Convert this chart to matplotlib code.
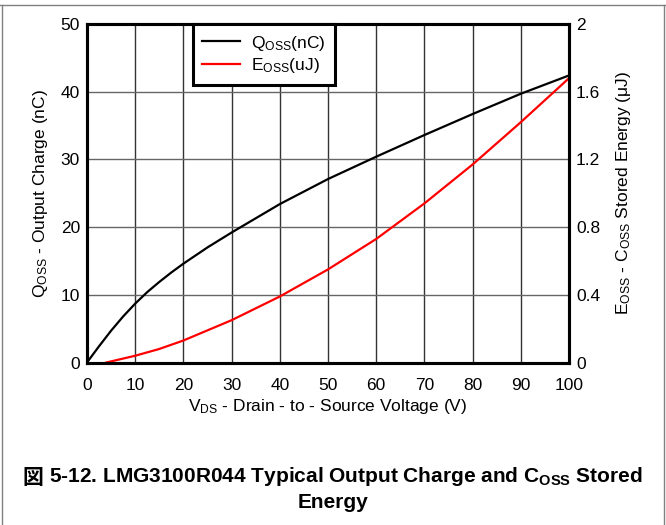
import matplotlib
matplotlib.use("Agg")
import matplotlib.pyplot as plt
from matplotlib.lines import Line2D

plt.rcParams['font.family'] = ['Liberation Sans', 'Noto Sans CJK JP', 'DejaVu Sans']
plt.rcParams['mathtext.fontset'] = 'custom'
plt.rcParams['mathtext.rm'] = 'Liberation Sans'
plt.rcParams['mathtext.bf'] = 'Liberation Sans:bold'

# data
v_q = [0, 2.5, 5, 7.5, 10, 12.5, 15, 17.5, 20, 25, 30, 40, 50, 60, 70, 80, 90, 100]
q_oss = [0, 2.4, 4.7, 6.8, 8.7, 10.4, 11.9, 13.3, 14.6, 17.0, 19.2, 23.4, 27.1, 30.4, 33.6, 36.7, 39.7, 42.4]

v_e = [4, 10, 15, 20, 25, 30, 40, 50, 60, 70, 80, 90, 100]
e_oss = [0, 0.04, 0.08, 0.13, 0.19, 0.25, 0.39, 0.55, 0.73, 0.94, 1.17, 1.42, 1.68]

x_ticks = [0, 10, 20, 30, 40, 50, 60, 70, 80, 90, 100]
q_ticks = [0, 10, 20, 30, 40, 50]
e_ticks = [0, 0.4, 0.8, 1.2, 1.6, 2.0]
e_labels = ["0", "0.4", "0.8", "1.2", "1.6", "2"]

fs = 12.5

fig = plt.figure(figsize=(6.66, 5.25), dpi=100)
ax = fig.add_axes([0.1306, 0.3095, 0.7238, 0.6448])
ax2 = ax.twinx()

line_q, = ax.plot(v_q, q_oss, color="black", lw=1.6, label=r"Q$\mathregular{_{OSS}}$(nC)")
line_e, = ax2.plot(v_e, e_oss, color="red", lw=1.6, label=r"E$\mathregular{_{OSS}}$(uJ)")

ax.set_xlim(0, 100)
ax.set_ylim(0, 50)
ax2.set_ylim(0, 2)
ax.set_xticks(x_ticks)
ax.set_yticks(q_ticks)
ax2.set_yticks(e_ticks)
ax2.set_yticklabels(e_labels)

ax.xaxis.grid(True, color="#333333", lw=1.0)
ax.yaxis.grid(True, color="#666666", lw=1.0)
ax.set_axisbelow(True)
for a in (ax, ax2):
    a.tick_params(length=0, labelsize=fs, pad=5)
    for s in a.spines.values():
        s.set_linewidth(2.2)
ax.tick_params(axis="x", pad=11)

ax.set_xlabel(r"V$\mathregular{_{DS}}$ - Drain - to - Source Voltage (V)", fontsize=fs, labelpad=3)
ax.set_ylabel(r"Q$\mathregular{_{OSS}}$ - Output Charge (nC)", fontsize=fs, labelpad=8)
ax2.set_ylabel(r"E$\mathregular{_{OSS}}$ - C$\mathregular{_{OSS}}$ Stored Energy ($\mathregular{\mu}$J)",
               fontsize=fs, rotation=90, labelpad=10)

leg = ax2.legend(handles=[line_q, line_e], loc="upper left", bbox_to_anchor=(0.219, 1.0),
                 fontsize=fs, frameon=True, fancybox=False, borderaxespad=0,
                 labelspacing=0.2, borderpad=0.55, handlelength=2.2, handletextpad=0.6)
leg.get_frame().set_edgecolor("black")
leg.get_frame().set_linewidth(2.2)
leg.get_frame().set_alpha(1)

# caption: the CJK glyph goes in its own text since mathtext has no font fallback
cap_y = 1 - 477 / 525
cap_fs = 15
t_kanji = fig.text(0, cap_y, "図 ", ha="left", va="center", fontsize=cap_fs,
                   fontweight="bold", family="Noto Sans CJK JP")
t_rest = fig.text(0, cap_y, r"5-12. LMG3100R044 Typical Output Charge and C$\mathregular{_{OSS}}$ Stored",
                  ha="left", va="center", fontsize=cap_fs, fontweight="bold")
r = fig.canvas.get_renderer()
w1 = t_kanji.get_window_extent(r).width
w2 = t_rest.get_window_extent(r).width
x0 = (666 - w1 - w2) / 2
t_kanji.set_x(x0 / 666)
t_rest.set_x((x0 + w1) / 666)
fig.text(0.5, 1 - 503 / 525, "Energy", ha="center", va="center", fontsize=cap_fs, fontweight="bold")

# page border
fig.add_artist(Line2D([1.5 / 666, 1.5 / 666], [0, 1 - 5 / 525], color="#808080", lw=1))
fig.add_artist(Line2D([664 / 666, 664 / 666], [0, 1 - 5 / 525], color="#808080", lw=1))
fig.add_artist(Line2D([0, 1], [1 - 5 / 525, 1 - 5 / 525], color="#808080", lw=1))

fig.savefig("out.png", dpi=100)
